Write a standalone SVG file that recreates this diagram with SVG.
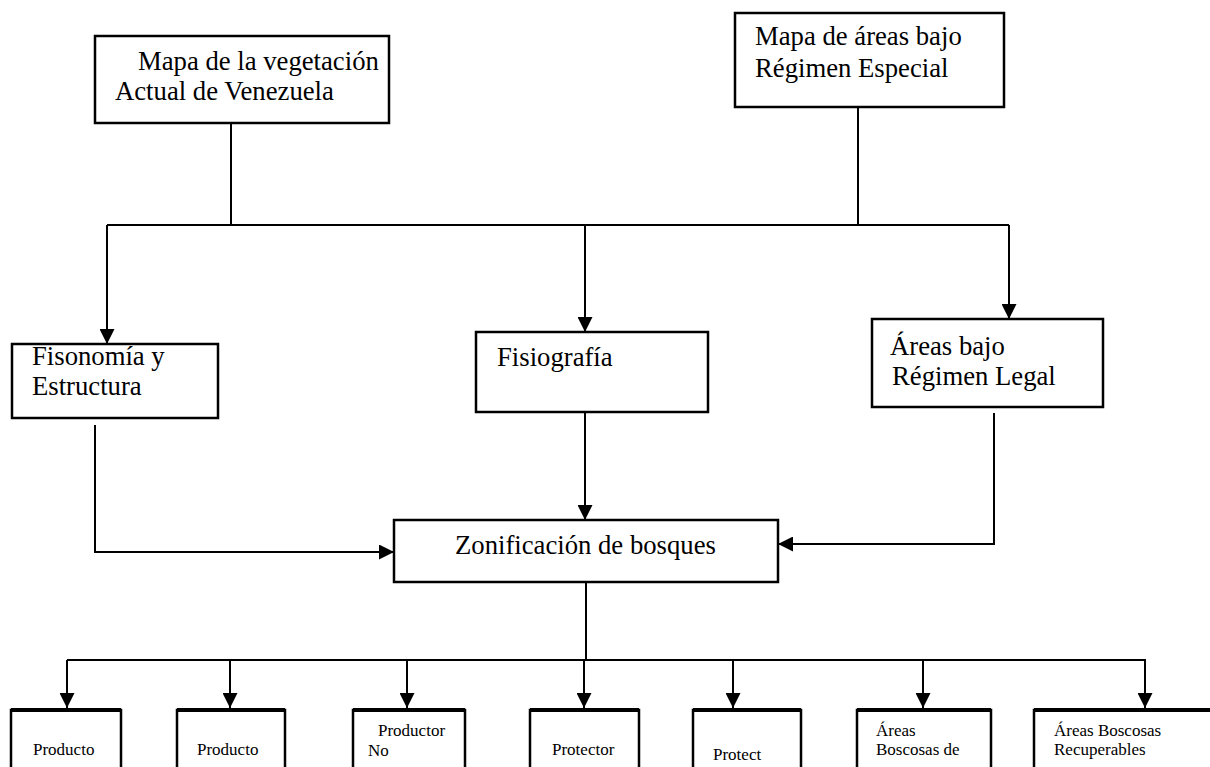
<svg xmlns="http://www.w3.org/2000/svg" width="1210" height="767" viewBox="0 0 1210 767">
<style>
.box{fill:#fff;stroke:#000;stroke-width:2.5}
.sbox{fill:#fff;stroke:#000;stroke-width:2.5}
.top{fill:none;stroke:#000;stroke-width:4}
.ln{fill:none;stroke:#000;stroke-width:2}
.t{font-family:"Liberation Serif","Times New Roman",serif;font-size:26.7px;fill:#000}
.s{font-family:"Liberation Serif","Times New Roman",serif;font-size:17px;fill:#000}
</style>
<defs>
<marker id="ah" viewBox="0 0 15 15" refX="15" refY="7.5" markerWidth="15" markerHeight="15" markerUnits="userSpaceOnUse" orient="auto">
<path d="M0,0 L15,7.5 L0,15 Z" fill="#000"/>
</marker>
</defs>
<g id="connectors">
<path class="ln" d="M231,123 V225"/>
<path class="ln" d="M858,107 V225"/>
<path class="ln" d="M107,225 H1009"/>
<path class="ln" d="M107,225 V344" marker-end="url(#ah)"/>
<path class="ln" d="M585,225 V332" marker-end="url(#ah)"/>
<path class="ln" d="M1009,225 V319" marker-end="url(#ah)"/>
<path class="ln" d="M95,425 V552 H394" marker-end="url(#ah)"/>
<path class="ln" d="M585,412 V520" marker-end="url(#ah)"/>
<path class="ln" d="M994,413 V544 H778" marker-end="url(#ah)"/>
<path class="ln" d="M586,580 V660"/>
<path class="ln" d="M67,660 H1146"/>
<path class="ln" d="M67,660 V708" marker-end="url(#ah)"/>
<path class="ln" d="M230,660 V708" marker-end="url(#ah)"/>
<path class="ln" d="M407,660 V708" marker-end="url(#ah)"/>
<path class="ln" d="M584,660 V708" marker-end="url(#ah)"/>
<path class="ln" d="M733,660 V708" marker-end="url(#ah)"/>
<path class="ln" d="M923,660 V708" marker-end="url(#ah)"/>
<path class="ln" d="M1145,660 V708" marker-end="url(#ah)"/>
</g>
<g id="n_vegetacion">
<rect class="box" x="95" y="36" width="294" height="87"/>
<text class="t" x="138" y="70">Mapa de la vegetación</text>
<text class="t" x="115" y="100">Actual de Venezuela</text>
</g>
<g id="n_regimen_especial">
<rect class="box" x="735" y="13" width="269" height="94"/>
<text class="t" x="755" y="45">Mapa de áreas bajo</text>
<text class="t" x="755" y="77">Régimen Especial</text>
</g>
<g id="n_fisonomia">
<rect class="box" x="12" y="344" width="206" height="74"/>
<text class="t" x="32" y="365">Fisonomía y</text>
<text class="t" x="32" y="395">Estructura</text>
</g>
<g id="n_fisiografia">
<rect class="box" x="476" y="332" width="232" height="80"/>
<text class="t" x="497" y="366">Fisiografía</text>
</g>
<g id="n_areas_legal">
<rect class="box" x="872" y="319" width="231" height="88"/>
<text class="t" x="890" y="355">Áreas bajo</text>
<text class="t" x="892" y="385">Régimen Legal</text>
</g>
<g id="n_zonificacion">
<rect class="box" x="394" y="520" width="384" height="62"/>
<text class="t" x="455" y="554">Zonificación de bosques</text>
</g>
<g id="n_b1">
<rect class="sbox" x="11" y="710" width="110" height="70"/>
<path class="top" d="M11,710 H121"/>
<text class="s" x="33" y="755">Producto</text>
</g>
<g id="n_b2">
<rect class="sbox" x="177" y="710" width="108" height="70"/>
<path class="top" d="M177,710 H285"/>
<text class="s" x="197" y="755">Producto</text>
</g>
<g id="n_b3">
<rect class="sbox" x="353" y="710" width="112" height="70"/>
<path class="top" d="M353,710 H465"/>
<text class="s" x="378" y="736">Productor</text>
<text class="s" x="368" y="756">No</text>
</g>
<g id="n_b4">
<rect class="sbox" x="530" y="710" width="109" height="70"/>
<path class="top" d="M530,710 H639"/>
<text class="s" x="552" y="755">Protector</text>
</g>
<g id="n_b5">
<rect class="sbox" x="693" y="710" width="108" height="70"/>
<path class="top" d="M693,710 H801"/>
<text class="s" x="713" y="760">Protect</text>
</g>
<g id="n_b6">
<rect class="sbox" x="857" y="710" width="134" height="70"/>
<path class="top" d="M857,710 H991"/>
<text class="s" x="876" y="736">Áreas</text>
<text class="s" x="876" y="755">Boscosas de</text>
</g>
<g id="n_b7">
<rect class="sbox" x="1034" y="710" width="190" height="70"/>
<path class="top" d="M1034,710 H1224"/>
<text class="s" x="1054" y="736">Áreas Boscosas</text>
<text class="s" x="1054" y="755">Recuperables</text>
</g>
</svg>
